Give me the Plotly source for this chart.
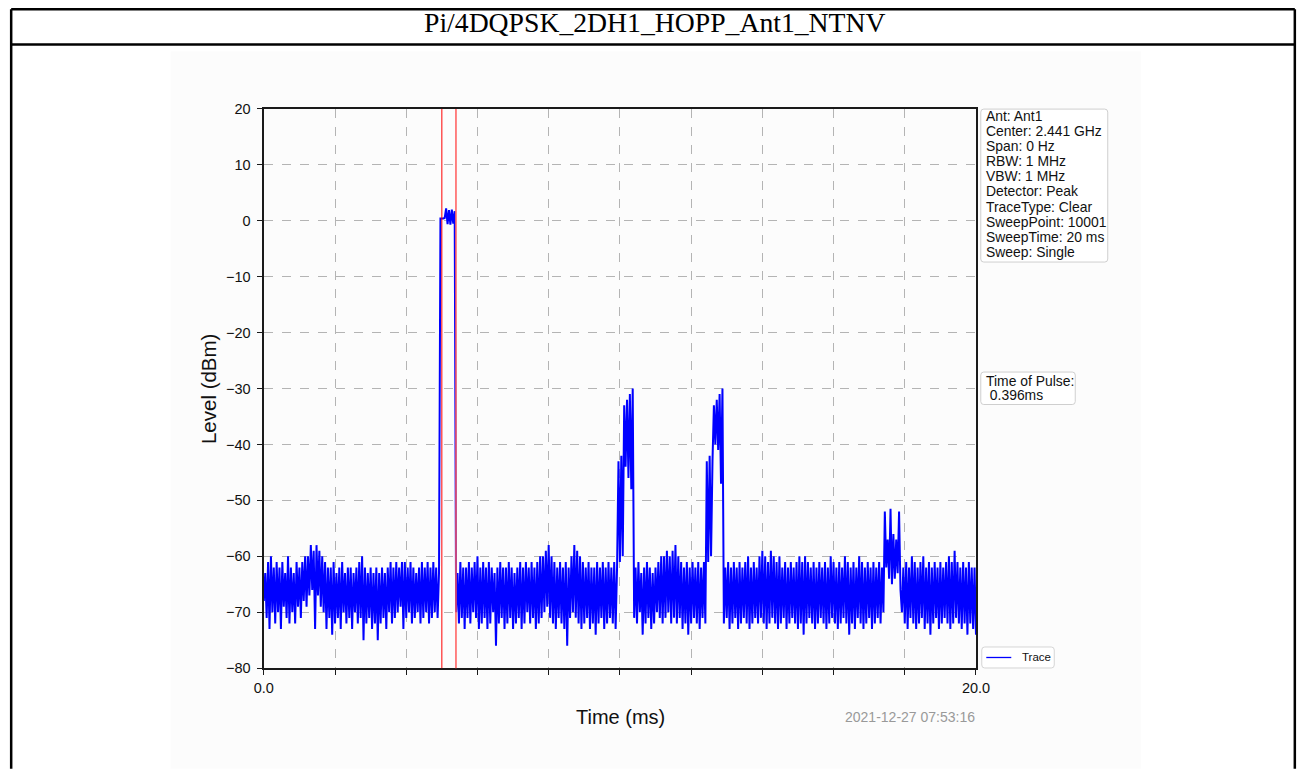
import numpy as np
import plotly.graph_objects as go

W, H = 1310, 778

# sweep levels in dBm, one value every 0.04 ms (min/max pairs)
noise_a = [
    -68, -63, -71, -61, -73, -60, -70, -62, -72, -61,
    -70, -62, -73, -61, -69, -63, -71, -60, -72, -62,
    -70, -63, -72, -61, -69, -62, -71, -61, -68, -60,
    -69, -60, -67, -58, -66, -59, -73, -58, -67, -59,
    -69, -60, -70, -61, -73, -62, -71, -62, -74, -61,
    -72, -63, -71, -62, -73, -61, -70, -63, -72, -62,
    -71, -62, -73, -63, -70, -62, -72, -61, -71, -60,
    -75, -62, -72, -63, -71, -62, -73, -63, -72, -62,
    -75, -63, -72, -62, -71, -63, -73, -62, -70, -61,
    -72, -62, -71, -61, -70, -62, -69, -61, -73, -61,
    -71, -62, -70, -61, -72, -62, -71, -63, -70, -62,
    -72, -61, -71, -62, -70, -61, -72, -62, -71, -61,
    -70, -62, -71, -63,
]
pulse = [0.4, 0.4, 0.4, 0.5, 2.2, -0.6, 1.9, -0.7, 2.0, -0.5, 1.7]
noise_b = [
    -70, -63, -72, -61, -71, -62, -73, -62, -71, -61,
    -72, -62, -70, -61, -71, -60, -73, -62, -72, -61,
    -71, -62, -73, -61, -72, -62, -70, -63, -76, -62,
    -72, -61, -71, -62, -73, -62, -72, -61, -71, -62,
    -73, -63, -72, -62, -71, -61, -73, -62, -72, -61,
    -70, -62, -72, -61, -71, -62, -73, -61, -72, -60,
    -71, -60, -70, -59, -69, -58, -71, -60, -72, -61,
    -73, -62, -71, -61, -72, -62, -73, -61, -76, -62,
    -71, -60, -70, -58, -71, -59, -72, -60, -73, -61,
    -72, -62, -71, -61, -73, -62, -72, -62, -74, -61,
    -72, -62, -71, -61, -73, -62, -72, -61, -71, -62,
    -72, -61, -73, -62,
]
burst_1 = [-43, -61, -42, -60, -33, -44, -32, -46, -31, -48, -30]
noise_c = [
    -71, -62, -72, -61, -70, -63, -74, -62, -72, -61,
    -71, -62, -73, -63, -72, -62, -70, -61, -71, -60,
    -72, -60, -71, -59, -70, -60, -72, -59, -71, -58,
    -72, -60, -71, -61, -73, -62, -72, -61, -74, -62,
    -72, -61, -71, -62, -72, -61, -73, -62, -71, -61,
    -72,
]
burst_2 = [-43, -61, -42, -60, -43, -33, -40, -32, -41, -31, -47, -30]
noise_d = [
    -72, -62, -71, -61, -73, -62, -72, -61, -71, -62,
    -73, -61, -72, -62, -71, -61, -72, -60, -73, -62,
    -72, -61, -71, -62, -72, -60, -71, -59, -72, -60,
    -73, -61, -72, -59, -71, -60, -72, -61, -73, -60,
    -72, -62, -71, -61, -73, -62, -72, -61, -71, -62,
    -72, -61, -73, -60, -72, -61, -74, -60, -72, -61,
    -71, -62, -72, -61, -73, -62, -72, -61, -71, -62,
    -72, -61, -73, -62, -72, -60, -71, -61, -72, -62,
    -73, -61, -72, -62, -71, -60, -72, -61, -74, -62,
    -72, -61, -73, -62, -71, -60, -72, -61, -73, -62,
    -72, -61, -71, -62, -73, -61, -72, -62, -71, -61,
    -72, -62, -70,
]
spur = [-52, -62, -57, -64, -51.5, -65, -56, -64, -57, -63, -52, -66]
noise_e = [
    -70, -62, -72, -61, -73, -62, -71, -60, -72, -61,
    -73, -62, -72, -61, -71, -60, -73, -62, -72, -61,
    -74, -62, -72, -61, -71, -62, -73, -61, -72, -62,
    -71, -61, -72, -60, -73, -61, -72, -59, -71, -61,
    -72, -62, -73, -61, -72, -62, -74, -61, -72, -62,
    -73, -62, -74,
]

sweep_time_ms = 20
pulse_start_ms = 5.0
pulse_width_ms = 0.396

time_ticks = [0, 2, 4, 6, 8, 10, 12, 14, 16, 18, 20]
time_labels = ["0.0", "", "", "", "", "", "", "", "", "", "20.0"]
level_ticks = [-80, -70, -60, -50, -40, -30, -20, -10, 0, 10, 20]

info_lines = [
    "Ant: Ant1", "Center: 2.441 GHz", "Span: 0 Hz", "RBW: 1 MHz", "VBW: 1 MHz",
    "Detector: Peak", "TraceType: Clear", "SweepPoint: 10001", "SweepTime: 20 ms",
    "Sweep: Single",
]
title = "Pi/4DQPSK_2DH1_HOPP_Ant1_NTNV"
stamp = "2021-12-27 07:53:16"

level = np.array(noise_a + pulse + noise_b + burst_1 + noise_c + burst_2
                 + noise_d + spur + noise_e, dtype=float)
sweep = np.linspace(0, sweep_time_ms, level.size)

# the page comes out slightly shrunk and shifted in the snapshot, so place things
# by where they should land on screen
KX, OX = 0.982, 9.4
KY, OY = 0.9796, 7.4


def px(x):
    return min(max((x - OX) / KX, 1.2), W - 1.2) / W


def py(y):
    return 1 - min(max((y - OY) / KY, 1.2), H - 1.2) / H


def box_path(x0, y0, x1, y1, r=3):
    pts = [("M", x0 + r, y0), ("L", x1 - r, y0), ("Q", x1, y0), ("", x1, y0 + r),
           ("L", x1, y1 - r), ("Q", x1, y1), ("", x1 - r, y1), ("L", x0 + r, y1),
           ("Q", x0, y1), ("", x0, y1 - r), ("L", x0, y0 + r), ("Q", x0, y0),
           ("", x0 + r, y0)]
    return " ".join(f"{c}{px(x):.5f},{py(y):.5f}" for c, x, y in pts) + " Z"


SANS = "Liberation Sans, Arial, sans-serif"

fig = go.Figure()
fig.add_trace(go.Scatter(x=sweep, y=level, mode="lines", name="Trace",
                         line=dict(color="#0000ff", width=2, simplify=False),
                         showlegend=False))

fig.add_vline(x=pulse_start_ms, line_color="#ff0000", line_width=1)
fig.add_vline(x=pulse_start_ms + pulse_width_ms, line_color="#ff5a5a", line_width=1.5)

shapes = [
    # picture background
    dict(type="rect", xref="paper", yref="paper", x0=px(170), x1=px(1141), y0=py(800), y1=py(51),
         fillcolor="#fcfcfc", line_width=0, layer="below"),
    # page frame
    dict(type="line", xref="paper", yref="paper", x0=px(0), x1=px(1400), y0=py(3.5), y1=py(3.5),
         line=dict(color="black", width=2.5)),
    dict(type="line", xref="paper", yref="paper", x0=px(0), x1=px(1400), y0=py(44), y1=py(44),
         line=dict(color="black", width=2.5)),
    dict(type="line", xref="paper", yref="paper", x0=px(9), x1=px(9), y0=py(0), y1=py(800),
         line=dict(color="black", width=2.5)),
    dict(type="line", xref="paper", yref="paper", x0=px(1303), x1=px(1303), y0=py(0), y1=py(800),
         line=dict(color="black", width=2.5)),
    # info boxes
    dict(type="path", xref="paper", yref="paper", path=box_path(980.5, 108.5, 1107.5, 261.5),
         fillcolor="white", line=dict(color="#cfcfcf", width=1)),
    dict(type="path", xref="paper", yref="paper", path=box_path(980.5, 371.5, 1075, 404),
         fillcolor="white", line=dict(color="#cfcfcf", width=1)),
    # legend
    dict(type="path", xref="paper", yref="paper", path=box_path(981.5, 646.5, 1054, 667.5),
         fillcolor="white", line=dict(color="#d5d5d5", width=1)),
    dict(type="line", xref="paper", yref="paper", x0=px(986), x1=px(1011), y0=py(657), y1=py(657),
         line=dict(color="#0000ff", width=1.3)),
]
for s in shapes:
    fig.add_shape(**s)

ann = [
    dict(text=title, x=px(655), y=py(21.5), font=dict(family="Liberation Serif, Times New Roman, serif",
                                                       size=27.7, color="black")),
    dict(text="Level (dBm)", x=px(208), y=py(388), textangle=-90, font=dict(size=20.5)),
    dict(text="Time (ms)", x=px(620), y=py(717), font=dict(size=20)),
    dict(text=stamp, x=px(976.5), y=py(717), xanchor="right", font=dict(size=14, color="#999999")),
    dict(text="Trace", x=px(1020), y=py(657), xanchor="left", font=dict(size=11.5)),
    dict(text="Time of Pulse:", x=px(983.5), y=py(380), xanchor="left", font=dict(size=13.9)),
    dict(text="\u00a00.396ms", x=px(983.5), y=py(394.5), xanchor="left", font=dict(size=13.9)),
]
for k, line in enumerate(info_lines):
    ann.append(dict(text=line, x=px(983.5), y=py(115 + k * 15.17), xanchor="left",
                    font=dict(size=13.9)))
for a in ann:
    a.setdefault("xanchor", "center")
    fig.add_annotation(xref="paper", yref="paper", yanchor="middle", showarrow=False, **a)

axis_common = dict(showline=True, linecolor="#1a1a1a", linewidth=1.5, mirror=True,
                   ticks="outside", ticklen=5.5, tickwidth=1, tickcolor="#1a1a1a",
                   showgrid=True, gridcolor="#b4b4b4", griddash="dash", gridwidth=0.8,
                   zeroline=False, tickfont=dict(size=14.5, color="#111111"))

fig.update_xaxes(range=[0, sweep_time_ms], tickvals=time_ticks, ticktext=time_labels,
                 domain=[px(263.3), px(975.7)], **axis_common)
fig.update_yaxes(range=[-80, 20], tickvals=level_ticks,
                 ticktext=[str(v).replace("-", "\u2212") for v in level_ticks],
                 domain=[py(667.7), py(108.3)], ticklabelstandoff=3, **axis_common)

fig.update_layout(width=W, height=H, autosize=False,
                  margin=dict(l=0, r=0, t=0, b=0),
                  paper_bgcolor="white", plot_bgcolor="white",
                  font=dict(family=SANS, color="#111111"),
                  showlegend=False)

fig.write_html("out.html", config={"displayModeBar": False},
               post_script="document.body.style.margin='0px';"
                           "document.body.style.overflow='hidden';")
